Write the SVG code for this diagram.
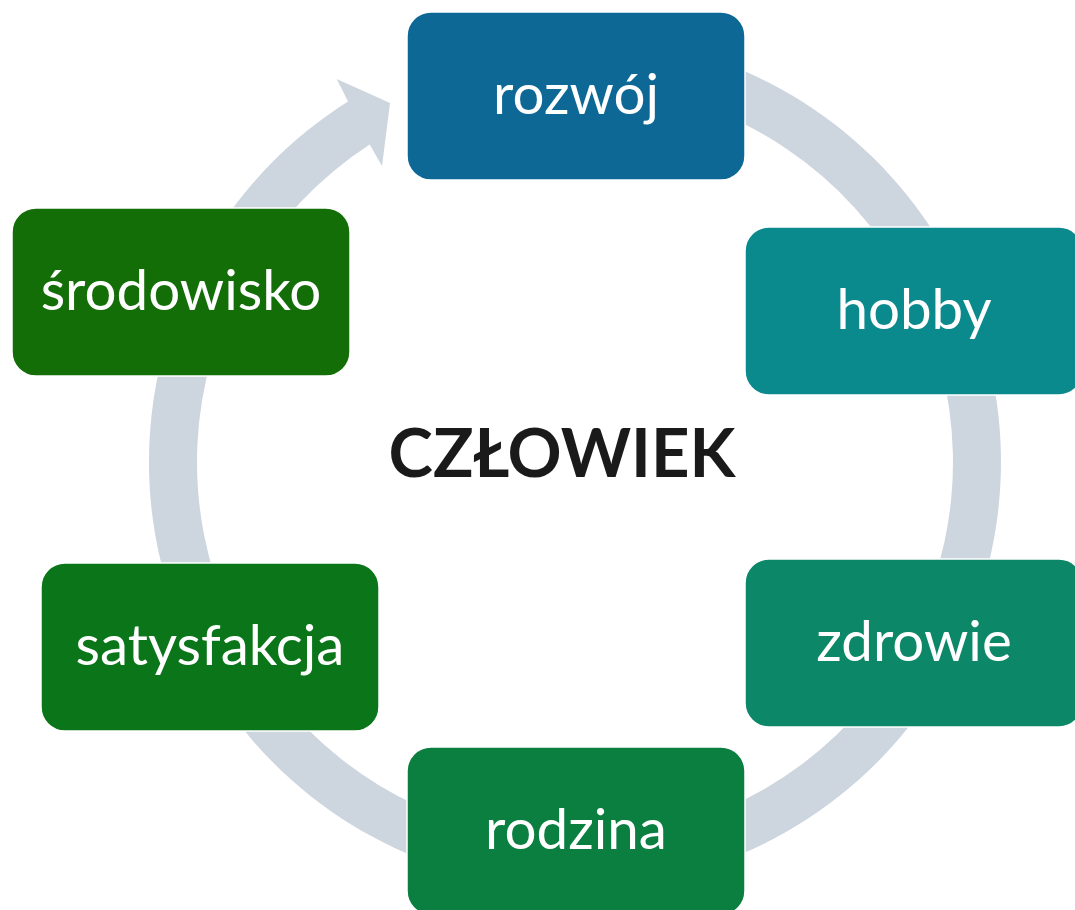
<svg xmlns="http://www.w3.org/2000/svg" width="1075" height="910" viewBox="0 0 1075 910">
<style>
.node rect{stroke:#ffffff;stroke-width:1.5}
.node text{font-family:Lato,"Liberation Sans",sans-serif;font-size:56.5px;fill:#ffffff;text-anchor:middle}
.ring{fill:#CDD5DF}
.center{font-family:Lato,"Liberation Sans",sans-serif;font-size:67px;font-weight:bold;fill:#1A1A1A;text-anchor:middle}
</style>
<rect width="1075" height="910" fill="#ffffff"/>
<g id="connectors">
<path class="ring" d="M575,36 A426,426 0 1 1 348,101.5 L336.7,79.1 L390,103 L382,166 L369.7,144.6 A378,378 0 1 0 575,84 Z"/>
</g>
<g id="rozwoj" class="node"><rect x="407" y="12" width="338" height="168" rx="24" fill="#0E6896"/><text x="576" y="114">rozwój</text></g>
<g id="hobby" class="node"><rect x="745" y="227" width="338" height="168" rx="24" fill="#0B8A8E"/><text x="914" y="329">hobby</text></g>
<g id="zdrowie" class="node"><rect x="745" y="559" width="338" height="168" rx="24" fill="#0C8768"/><text x="914" y="661">zdrowie</text></g>
<g id="rodzina" class="node"><rect x="407" y="747" width="338" height="168" rx="24" fill="#0A7F40"/><text x="576" y="849">rodzina</text></g>
<g id="satysfakcja" class="node"><rect x="41" y="563" width="338" height="168" rx="24" fill="#0A7519"/><text x="210" y="665">satysfakcja</text></g>
<g id="srodowisko" class="node"><rect x="12" y="208" width="338" height="168" rx="24" fill="#146E07"/><text x="181" y="310">środowisko</text></g>
<g id="czlowiek"><text class="center" x="562" y="477">CZŁOWIEK</text></g>
</svg>
